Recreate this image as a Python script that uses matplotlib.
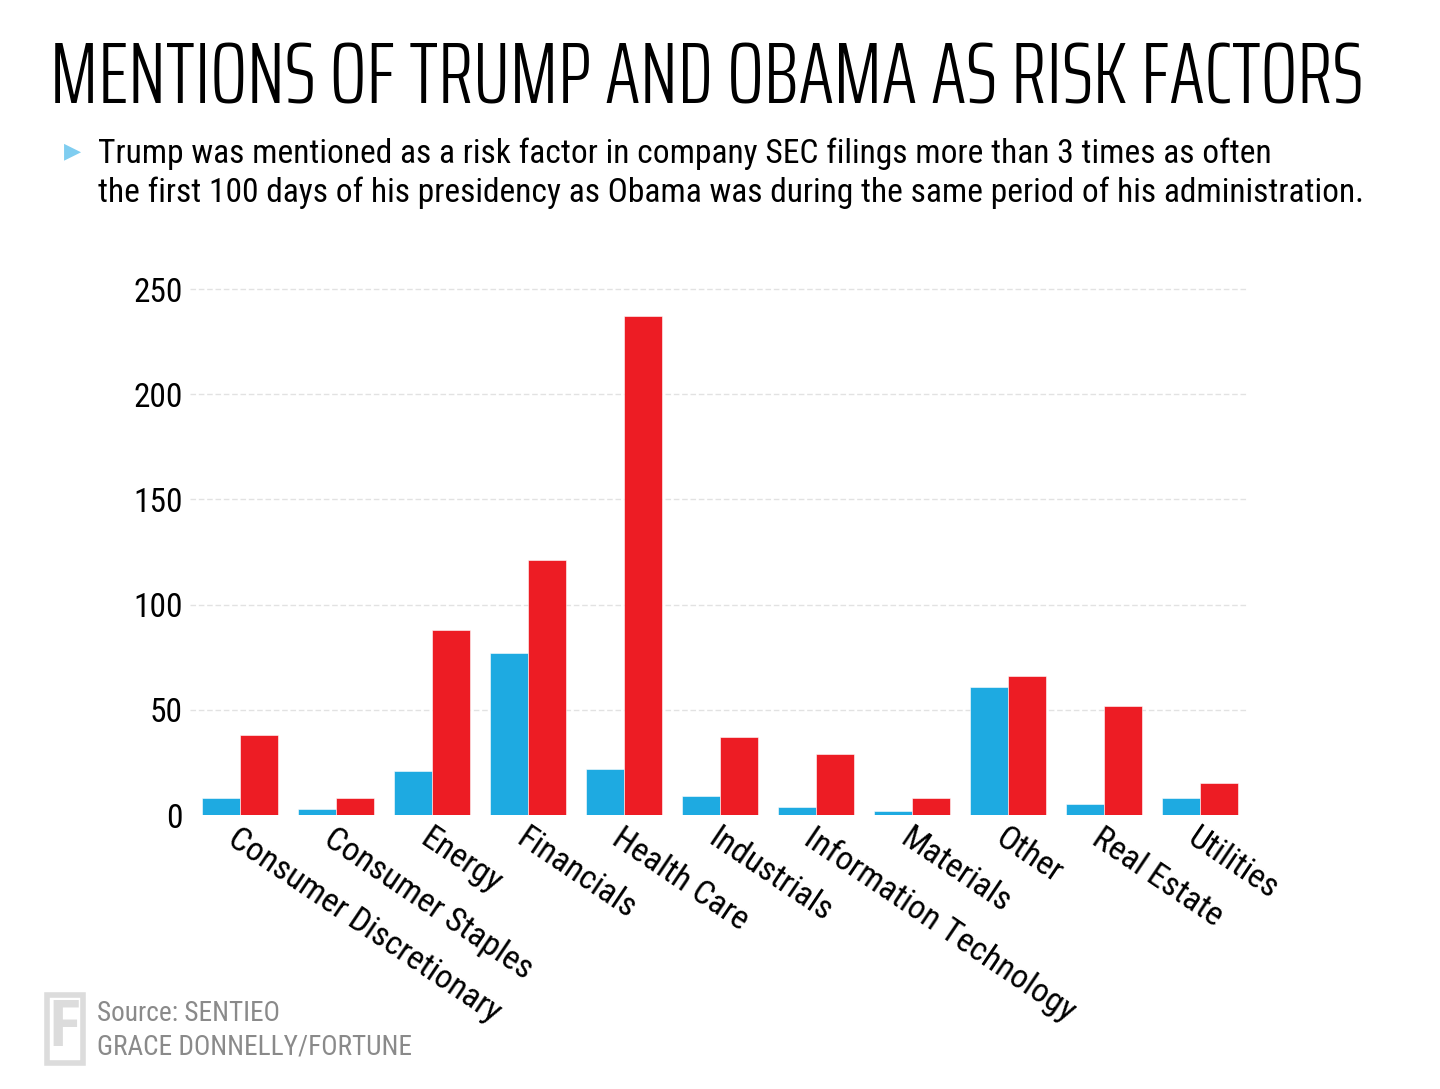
import matplotlib
matplotlib.use("Agg")
import matplotlib.pyplot as plt
from matplotlib.patches import Rectangle
import matplotlib.transforms as mtransforms
import numpy as np

categories = ["Consumer Discretionary", "Consumer Staples", "Energy", "Financials",
              "Health Care", "Industrials", "Information Technology", "Materials",
              "Other", "Real Estate", "Utilities"]
obama = [8, 3, 21, 77, 22, 9, 4, 2, 61, 5, 8]
trump = [38, 8, 88, 121, 237, 37, 29, 8, 66, 52, 15]
yticks = [0, 50, 100, 150, 200, 250]

title = "MENTIONS OF TRUMP AND OBAMA AS RISK FACTORS"
subtitle = ["Trump was mentioned as a risk factor in company SEC filings more than 3 times as often",
            "the first 100 days of his presidency as Obama was during the same period of his administration."]
source = ["Source: SENTIEO", "GRACE DONNELLY/FORTUNE"]

BLUE = "#1eaae1"
RED = "#ed1c24"
COND = "Roboto Condensed"

W, H = 1440, 1089
fig = plt.figure(figsize=(W / 100, H / 100), dpi=100)
ax = fig.add_axes([190 / W, 1 - 815 / H, (1248 - 190) / W, (815 - 289) / H])

x = np.arange(len(categories))
bw = 0.4
ax.bar(x - bw / 2, obama, bw, color=BLUE, edgecolor="white", linewidth=0.4, zorder=3)
ax.bar(x + bw / 2, trump, bw, color=RED, edgecolor="white", linewidth=0.4, zorder=3)

ax.set_xlim(-0.52, len(categories) - 0.5)
ax.set_ylim(0, 250)
ax.set_yticks(yticks)
ax.set_yticklabels([str(v) for v in yticks], fontfamily=COND, fontsize=24)
for v in yticks[1:]:
    ax.axhline(v, color="#e2e2e2", linewidth=1.0, linestyle=(0, (4, 2)), zorder=1, clip_on=False)
ax.tick_params(axis="y", length=0, pad=5)
ax.tick_params(axis="x", length=0, pad=6)
ax.set_xticks(x)
ax.set_xticklabels(categories, rotation=-34, rotation_mode="anchor", ha="left", va="center",
                   fontfamily=COND, fontsize=24.5)
for lbl in ax.get_xticklabels():
    lbl.set_transform(lbl.get_transform() + mtransforms.ScaledTranslation(-0.09, -0.12, fig.dpi_scale_trans))
for s in ax.spines.values():
    s.set_visible(False)

t = fig.text(50 / W, 1 - 103 / H, title, fontfamily="Saira ExtraCondensed", fontweight=300,
             fontsize=66, va="baseline", ha="left", color="black")
fig.canvas.draw()
wpx = t.get_window_extent().width
t.set_fontsize(66 * 1312 / wpx)

fig.text(98 / W, 1 - 163 / H, subtitle[0], fontfamily=COND, fontsize=24.1, va="baseline", ha="left")
fig.text(98 / W, 1 - 202 / H, subtitle[1], fontfamily=COND, fontsize=24.1, va="baseline", ha="left")
fig.text(64 / W, 1 - 151 / H, "\u25B6", fontfamily="DejaVu Sans", fontsize=16, color="#7fcdf0",
         va="center", ha="left")

fig.text(97 / W, 1 - 1021 / H, source[0], fontfamily=COND, fontsize=19.6, color="#8a8a8a", va="baseline")
fig.text(97 / W, 1 - 1054 / H, source[1], fontfamily=COND, fontsize=19.6, color="#8a8a8a", va="baseline")
fig.patches.append(Rectangle((47 / W, 1 - 1063 / H), 36 / W, 68 / H, transform=fig.transFigure,
                             facecolor="white", edgecolor="#dcdcdc", linewidth=4))
fig.text(65 / W, 1 - 1029 / H, "F", fontfamily=COND, fontweight="bold", fontsize=46,
         color="#dcdcdc", ha="center", va="center")

fig.savefig("out.png", dpi=100, facecolor="white")
